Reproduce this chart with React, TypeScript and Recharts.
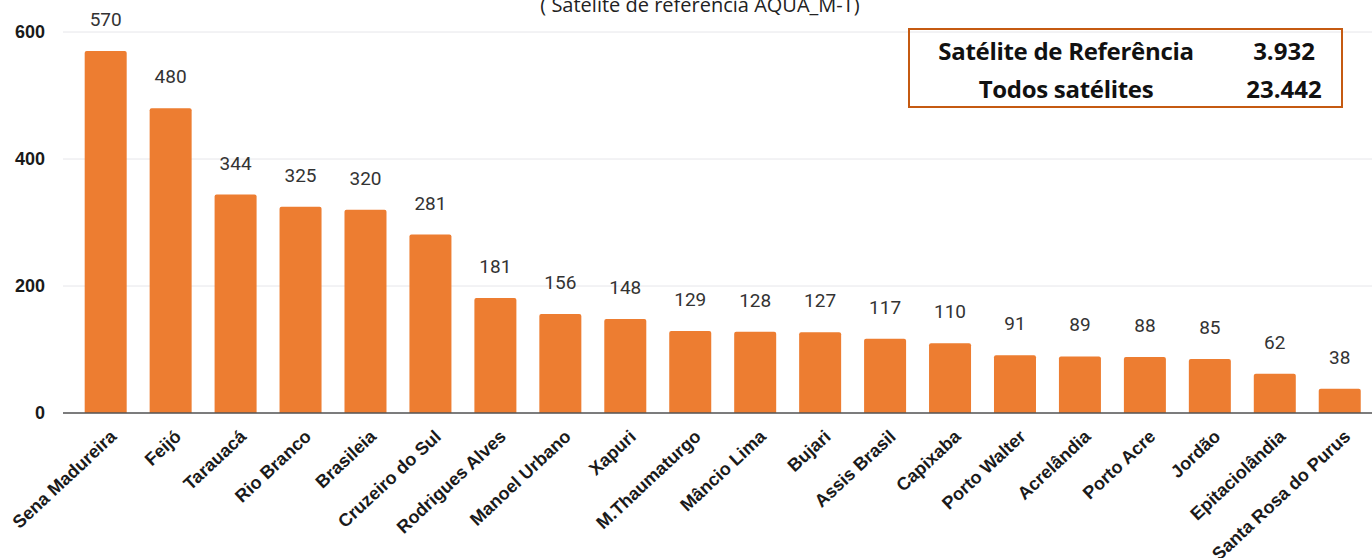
import { Bar, BarChart, CartesianGrid, LabelList, XAxis, YAxis } from "recharts";

const municipios = [
  "Sena Madureira",
  "Feijó",
  "Tarauacá",
  "Rio Branco",
  "Brasileia",
  "Cruzeiro do Sul",
  "Rodrigues Alves",
  "Manoel Urbano",
  "Xapuri",
  "M.Thaumaturgo",
  "Mâncio Lima",
  "Bujari",
  "Assis Brasil",
  "Capixaba",
  "Porto Walter",
  "Acrelândia",
  "Porto Acre",
  "Jordão",
  "Epitaciolândia",
  "Santa Rosa do Purus",
];

const focos = [570, 480, 344, 325, 320, 281, 181, 156, 148, 129, 128, 127, 117, 110, 91, 89, 88, 85, 62, 38];

const yTicks = [0, 200, 400, 600];

const resumoLabels = ["Satélite de Referência", "Todos satélites"];
const resumoValores = ["3.932", "23.442"];

const data = municipios.map((name, i) => ({ name, focos: focos[i] }));

function AngledTick({ x, y, payload }: any) {
  return (
    <text
      x={0}
      y={0}
      transform={`translate(${x + 12}, ${y + 17}) rotate(-43)`}
      textAnchor="end"
      fontFamily="'Liberation Sans', Arial, sans-serif"
      fontWeight="bold"
      fontSize={18}
      fill="#1a1a1a"
    >
      {payload.value}
    </text>
  );
}

export default function App() {
  return (
    <div style={{ position: "absolute", left: 0, top: 0, width: 1372, height: 558, background: "#fff" }}>
      <BarChart
        width={1372}
        height={558}
        data={data}
        margin={{ top: 32, right: 0, bottom: 0, left: 0 }}
        barCategoryGap="18%"
      >
        <text
          x={700}
          y={12}
          textAnchor="middle"
          fontFamily="'Open Sans', sans-serif"
          fontSize={20}
          fill="#222"
        >
          ( Satélite de referência AQUA_M-T)
        </text>
        <CartesianGrid vertical={false} stroke="#e6e6ea" />
        <XAxis
          dataKey="name"
          interval={0}
          tickLine={false}
          axisLine={{ stroke: "#555", strokeWidth: 1.5 }}
          tick={<AngledTick />}
          height={145}
          padding={{ left: 10, right: 0 }}
        />
        <YAxis
          domain={[0, 600]}
          ticks={yTicks}
          width={63}
          tickLine={false}
          axisLine={false}
          tickMargin={12}
          tick={{ fontFamily: "'Liberation Sans', Arial, sans-serif", fontWeight: "bold", fontSize: 18, fill: "#1a1a1a" }}
        />
        <Bar dataKey="focos" fill="#ED7D31" radius={[2, 2, 0, 0]} isAnimationActive={false}>
          <LabelList
            dataKey="focos"
            position="top"
            offset={25}
            fontFamily="Roboto, sans-serif"
            fontSize={19}
            fill="#333"
          />
        </Bar>
      </BarChart>
      <div
        style={{
          position: "absolute",
          left: 908,
          top: 28,
          width: 431,
          height: 76,
          border: "2px solid #C55A11",
          fontFamily: "'Open Sans', sans-serif",
          fontWeight: 700,
          fontSize: 24,
          lineHeight: "30px",
          color: "#111",
        }}
      >
        {resumoLabels.map((label, i) => (
          <div key={label} style={{ position: "absolute", top: 6 + i * 38, left: 0, width: 431, height: 30 }}>
            <span style={{ position: "absolute", left: 0, width: 312, textAlign: "center", letterSpacing: -0.3 }}>
              {label}
            </span>
            <span style={{ position: "absolute", left: 304, width: 140, textAlign: "center" }}>
              {resumoValores[i]}
            </span>
          </div>
        ))}
      </div>
    </div>
  );
}
